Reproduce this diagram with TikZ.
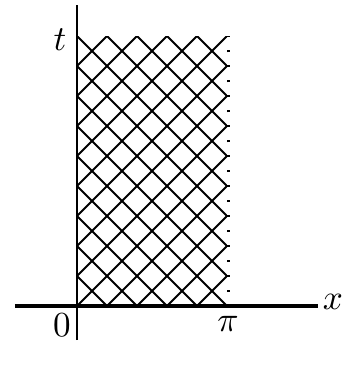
\documentclass[tikz,border=0pt]{standalone}
\usepackage{amsmath}
\usetikzlibrary{calc,positioning}

\begin{document}
\begin{tikzpicture}[x=0.165cm,y=0.165cm]
    \useasboundingbox (-5.13,-4) rectangle (18.67,20.4);

    \path
    (-4.13,0) coordinate(xl)
    (16.07,0) coordinate(xr)
    (0,-2.27) coordinate(tb)
    (0,20.07) coordinate(tt)
    (10.1,0) coordinate(pb)
    (10.1,18) coordinate(pt);

    \begin{scope}
      \clip (0,0) rectangle (10,18);
      \foreach \c in {-18,-16,...,10} {
        \draw[line width=0.6pt] (\c,0) -- ++(18,18);
      }
      \foreach \c in {2,4,...,28} {
        \draw[line width=0.6pt] (\c,0) -- ++(-18,18);
      }
    \end{scope}

    \draw[line width=0.7pt,dash pattern=on 0.7pt off 3.99pt,dash phase=0.35pt] (pb) -- (pt);

    \draw[line width=1.05pt] (xl) -- (xr);
    \draw[line width=0.9pt] (tb) -- (tt);

    \node[scale=1.1] (t) at (-1.13,17.73) {$t$};
    \node[scale=1.1] (x) at (17.07,0.27) {$x$};
    \node[scale=1.1] (o) at (-1.0,-1.27) {$0$};
    \node[scale=1.1] (p) at (10.07,-1.2) {$\pi$};
\end{tikzpicture}
\end{document}
